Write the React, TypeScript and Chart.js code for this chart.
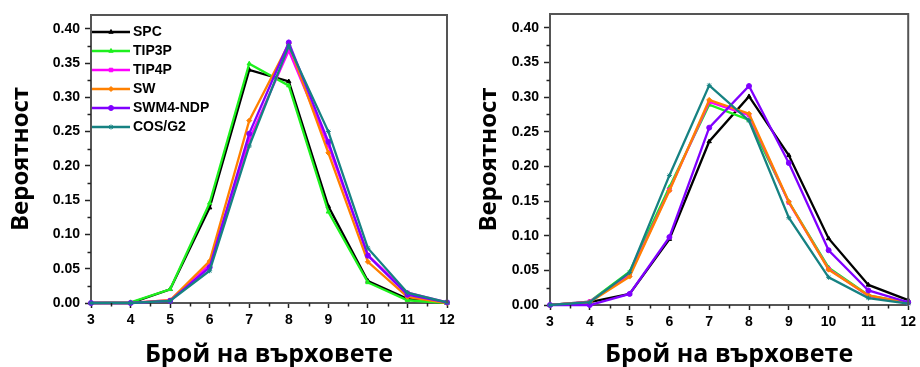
import React, { useEffect, useRef } from 'react';
import { Chart, registerables } from 'chart.js';
import { drawPoint } from 'chart.js/helpers';

Chart.register(...registerables);

// ---------- data ----------
const vertexCounts = [3, 4, 5, 6, 7, 8, 9, 10, 11, 12];
const xTickValues = [3, 4, 5, 6, 7, 8, 9, 10, 11, 12];
const yTickValues = [0, 0.05, 0.1, 0.15, 0.2, 0.25, 0.3, 0.35, 0.4];

const seriesNames = ['SPC', 'TIP3P', 'TIP4P', 'SW', 'SWM4-NDP', 'COS/G2'];
const seriesColors = ['#000000', '#1ef01e', '#ff00ff', '#ff8000', '#8000ff', '#168282'];
const seriesMarkers = ['triangle', 'triangle', 'rect', 'rectRot', 'circle', 'star'];

// left panel
const leftSPC = [0, 0, 0.02, 0.139, 0.34, 0.323, 0.141, 0.032, 0.006, 0.0];
const leftTIP3P = [0, 0.001, 0.02, 0.146, 0.349, 0.317, 0.133, 0.03, 0.004, 0.0];
const leftTIP4P = [0, 0, 0.004, 0.056, 0.238, 0.368, 0.23, 0.07, 0.015, 0.001];
const leftSW = [0, 0, 0.004, 0.061, 0.266, 0.378, 0.219, 0.06, 0.009, 0.0];
const leftSWM4 = [0, 0, 0.003, 0.052, 0.247, 0.38, 0.235, 0.069, 0.012, 0.001];
const leftCOS = [0, 0, 0.003, 0.047, 0.229, 0.375, 0.25, 0.08, 0.015, 0.001];

// right panel
const rightSPC = [0, 0.004, 0.016, 0.095, 0.236, 0.301, 0.216, 0.096, 0.029, 0.007];
const rightTIP3P = [0, 0.005, 0.048, 0.17, 0.289, 0.267, 0.149, 0.054, 0.014, 0.003];
const rightTIP4P = [0, 0.005, 0.043, 0.166, 0.293, 0.274, 0.148, 0.052, 0.013, 0.003];
const rightSW = [0, 0.004, 0.041, 0.165, 0.296, 0.276, 0.149, 0.051, 0.014, 0.003];
const rightSWM4 = [0, 0, 0.016, 0.098, 0.256, 0.316, 0.205, 0.079, 0.021, 0.004];
const rightCOS = [0, 0.004, 0.047, 0.187, 0.317, 0.266, 0.126, 0.04, 0.01, 0.002];

const leftSeries = [leftSPC, leftTIP3P, leftTIP4P, leftSW, leftSWM4, leftCOS];
const rightSeries = [rightSPC, rightTIP3P, rightTIP4P, rightSW, rightSWM4, rightCOS];

const xTitle = 'Брой на върховете';
const yTitle = 'Вероятност';

// ---------- helpers ----------
const TICK_FONT = { family: "'Liberation Sans', Arial, sans-serif", size: 14, weight: 'bold' as const };
const TITLE_FAMILY = "'Open Sans', 'DejaVu Sans', sans-serif";

function legendIcon(color: string, marker: string) {
  const c = document.createElement('canvas');
  c.width = 38;
  c.height = 10;
  const ctx = c.getContext('2d')!;
  ctx.strokeStyle = color;
  ctx.lineWidth = 2.5;
  ctx.beginPath();
  ctx.moveTo(0, 5);
  ctx.lineTo(38, 5);
  ctx.stroke();
  ctx.fillStyle = color;
  ctx.lineWidth = 1;
  drawPoint(ctx, { pointStyle: marker as any, radius: 2.5, rotation: 0, borderWidth: 1 } as any, 19, 5);
  return c;
}

const framePlugin = {
  id: 'frameMinor',
  afterDatasetsDraw(chart: any) {
    const { ctx, chartArea: a, scales } = chart;
    ctx.save();
    ctx.strokeStyle = '#555';
    ctx.lineWidth = 2;
    ctx.beginPath();
    ctx.moveTo(a.left, a.top);
    ctx.lineTo(a.right, a.top);
    ctx.lineTo(a.right, a.bottom);
    ctx.stroke();
    ctx.strokeStyle = '#222';
    ctx.lineWidth = 1.5;
    const ys = scales.y;
    for (let i = 0; i < yTickValues.length; i++) {
      const v = yTickValues[i] + (yTickValues[1] - yTickValues[0]) / 2;
      if (v > ys.max) continue;
      const py = Math.round(ys.getPixelForValue(v)) + 0.5;
      ctx.beginPath();
      ctx.moveTo(a.left - 3.5, py);
      ctx.lineTo(a.left, py);
      ctx.stroke();
    }
    const xs = scales.x;
    for (let i = 0; i < xTickValues.length - 1; i++) {
      const v = (xTickValues[i] + xTickValues[i + 1]) / 2;
      const px = Math.round(xs.getPixelForValue(v)) + 0.5;
      ctx.beginPath();
      ctx.moveTo(px, a.bottom);
      ctx.lineTo(px, a.bottom + 3.5);
      ctx.stroke();
    }
    ctx.restore();
  },
};

type PanelProps = {
  series: number[][];
  showLegend: boolean;
  left: number;
  padTop: number;
  padRight: number;
  yWidth: number;
  xHeight: number;
  yTitlePad: number;
};

function Panel({ series, showLegend, left, padTop, padRight, yWidth, xHeight, yTitlePad }: PanelProps) {
  const ref = useRef<HTMLCanvasElement>(null);
  useEffect(() => {
    const datasets = series.map((vals, i) => ({
      label: seriesNames[i],
      data: vertexCounts.map((x, j) => ({ x, y: vals[j] })),
      borderColor: seriesColors[i],
      backgroundColor: seriesColors[i],
      borderWidth: 2.3,
      pointStyle: seriesMarkers[i] as any,
      pointRadius: 2.5,
      pointBorderWidth: 1,
      pointBackgroundColor: seriesColors[i],
      pointBorderColor: seriesColors[i],
      tension: 0,
      clip: false as any,
      order: -i,
    }));
    const chart = new Chart(ref.current!, {
      type: 'line',
      data: { datasets },
      plugins: [framePlugin],
      options: {
        animation: false,
        responsive: false,
        devicePixelRatio: 1,
        layout: { padding: { top: padTop, right: padRight, bottom: 0, left: 0 } },
        plugins: {
          tooltip: { enabled: false },
          legend: {
            display: showLegend,
            position: 'chartArea' as any,
            align: 'start',
            title: { display: true, text: '', padding: { top: 19, bottom: 0 }, font: { size: 1, lineHeight: 1 } },
            labels: {
              usePointStyle: true,
              pointStyleWidth: 30,
              padding: 5,
              color: '#000',
              font: { family: "'Liberation Sans', Arial, sans-serif", size: 14, weight: 'bold' },
              generateLabels: (c: any) =>
                c.data.datasets.map((ds: any, i: number) => ({
                  text: ds.label,
                  pointStyle: legendIcon(seriesColors[i], seriesMarkers[i]),
                  fillStyle: seriesColors[i],
                  strokeStyle: seriesColors[i],
                  lineWidth: 0,
                  hidden: false,
                  datasetIndex: i,
                  fontColor: '#000',
                })),
            },
          },
        },
        scales: {
          x: {
            type: 'linear',
            min: xTickValues[0],
            max: xTickValues[xTickValues.length - 1],
            afterBuildTicks: (s: any) => {
              s.ticks = xTickValues.map((v) => ({ value: v }));
            },
            afterFit: (s: any) => {
              s.height = xHeight;
            },
            ticks: { callback: (v: any) => String(v), font: TICK_FONT, color: '#000', padding: 4, maxRotation: 0 },
            grid: { drawOnChartArea: false, drawTicks: true, tickLength: 5, tickColor: '#222', tickWidth: 1.5 },
            border: { display: true, color: '#555', width: 2 },
            title: {
              display: true,
              text: xTitle,
              color: '#000',
              font: { family: TITLE_FAMILY, size: 25, weight: 'bold', lineHeight: 1 },
              padding: { top: 0, bottom: 0 },
            },
          },
          y: {
            type: 'linear',
            min: 0,
            max: 0.42,
            afterBuildTicks: (s: any) => {
              s.ticks = yTickValues.map((v) => ({ value: v }));
            },
            afterFit: (s: any) => {
              s.width = yWidth;
            },
            ticks: { callback: (v: any) => Number(v).toFixed(2), font: TICK_FONT, color: '#000', padding: 5 },
            grid: { drawOnChartArea: false, drawTicks: true, tickLength: 6, tickColor: '#222', tickWidth: 1.5 },
            border: { display: true, color: '#555', width: 2 },
            title: {
              display: true,
              text: yTitle,
              color: '#000',
              font: { family: TITLE_FAMILY, size: 24, weight: 'bold', lineHeight: 1 },
              padding: { top: yTitlePad, bottom: 0 },
            },
          },
        },
      },
    });
    return () => chart.destroy();
  }, []);
  return (
    <canvas
      ref={ref}
      width={460}
      height={367}
      style={{ position: 'absolute', left, top: 0, width: 460, height: 367, display: 'block' }}
    />
  );
}

export default function App() {
  return (
    <div style={{ position: 'absolute', left: 0, top: 0, width: 920, height: 367, background: '#fff', overflow: 'hidden' }}>
      <Panel series={leftSeries} showLegend={true} left={0} padTop={15} padRight={13} yWidth={91} xHeight={64} yTitlePad={9} />
      <Panel series={rightSeries} showLegend={false} left={460} padTop={14} padRight={9} yWidth={90} xHeight={62} yTitlePad={17} />
    </div>
  );
}
